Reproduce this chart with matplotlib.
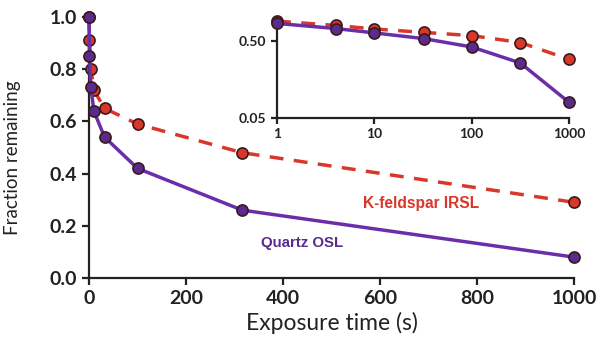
import matplotlib
matplotlib.use("Agg")
import matplotlib.pyplot as plt

plt.rcParams['font.family'] = ['Lato', 'DejaVu Sans']

times = [0, 1, 4, 10, 32, 100, 316, 1000]
quartz = [1.0, 0.85, 0.73, 0.64, 0.54, 0.42, 0.26, 0.08]
feldspar = [1.0, 0.91, 0.80, 0.72, 0.65, 0.59, 0.48, 0.29]

quartz_col = "#6a2fa8"
quartz_fill = "#5a2a8e"
feld_col = "#d9372a"
edge = "#3a1a1a"

fig = plt.figure(figsize=(6.05, 3.53), dpi=100)
ax = fig.add_axes([89/605, 1-278/353, (574-89)/605, (278-17)/353])

ax.plot(times, feldspar, color=feld_col, lw=2.5, ls=(0, (4, 3)), marker="o", ms=8,
        mfc=feld_col, mec=edge, mew=1.2, zorder=2)
ax.plot(times, quartz, color=quartz_col, lw=2.5, marker="o", ms=8,
        mfc=quartz_fill, mec=edge, mew=1.2, zorder=3)

ax.set_xlim(0, 1000)
ax.set_ylim(0, 1.0)
ax.set_xticks([0, 200, 400, 600, 800, 1000])
ax.set_yticks([0.0, 0.2, 0.4, 0.6, 0.8, 1.0])
ax.set_yticklabels(["0.0", "0.2", "0.4", "0.6", "0.8", "1.0"])
for s in ["top", "right"]:
    ax.spines[s].set_visible(False)
for s in ["left", "bottom"]:
    ax.spines[s].set_linewidth(1.6)
    ax.spines[s].set_color("#222222")
ax.tick_params(direction="out", length=5, width=1.6, labelsize=14, colors="#222222")
ax.set_xlabel("Exposure time (s)", fontsize=16.5, color="#222222", labelpad=4)
ax.set_ylabel("Fraction remaining", fontsize=13.5, color="#222222")
ax.yaxis.set_label_coords(-0.14, 0.46)
for lab in ax.get_xticklabels() + ax.get_yticklabels():
    lab.set_fontweight("bold")
ax.patch.set_alpha(0)

ax.text(685, 0.287, "K-feldspar IRSL", color=feld_col, fontsize=11.2, fontweight="bold",
        family="Liberation Sans", ha="center", va="center")
ax.text(440, 0.134, "Quartz OSL", color=quartz_fill, fontsize=10.8, fontweight="bold",
        family="Liberation Sans", ha="center", va="center")

ins = fig.add_axes([277/605, 1-118/353, (569-277)/605, (118-18)/353])
ins.plot(times[1:], feldspar[1:], color=feld_col, lw=2.5, ls=(0, (4, 3)), marker="o", ms=8,
         mfc=feld_col, mec=edge, mew=1.2, zorder=2)
ins.plot(times[1:], quartz[1:], color=quartz_col, lw=2.5, marker="o", ms=8,
         mfc=quartz_fill, mec=edge, mew=1.2, zorder=3)
ins.set_xscale("log")
ins.set_yscale("log")
ins.set_xlim(1, 1000)
ins.set_ylim(0.05, 1.0)
ins.set_xticks([1, 10, 100, 1000])
ins.set_xticklabels(["1", "10", "100", "1000"])
ins.set_yticks([0.05, 0.5])
ins.set_yticklabels(["0.05", "0.50"])
ins.minorticks_off()
for s in ["top", "right"]:
    ins.spines[s].set_visible(False)
for s in ["left", "bottom"]:
    ins.spines[s].set_linewidth(1.6)
    ins.spines[s].set_color("#222222")
ins.tick_params(direction="out", length=4, width=1.6, labelsize=10, colors="#222222")
for lab in ins.get_xticklabels() + ins.get_yticklabels():
    lab.set_fontweight("bold")
ins.patch.set_alpha(0)
for a in (ax, ins):
    for ln in a.lines:
        ln.set_clip_on(False)

fig.savefig("out.png", dpi=100)
